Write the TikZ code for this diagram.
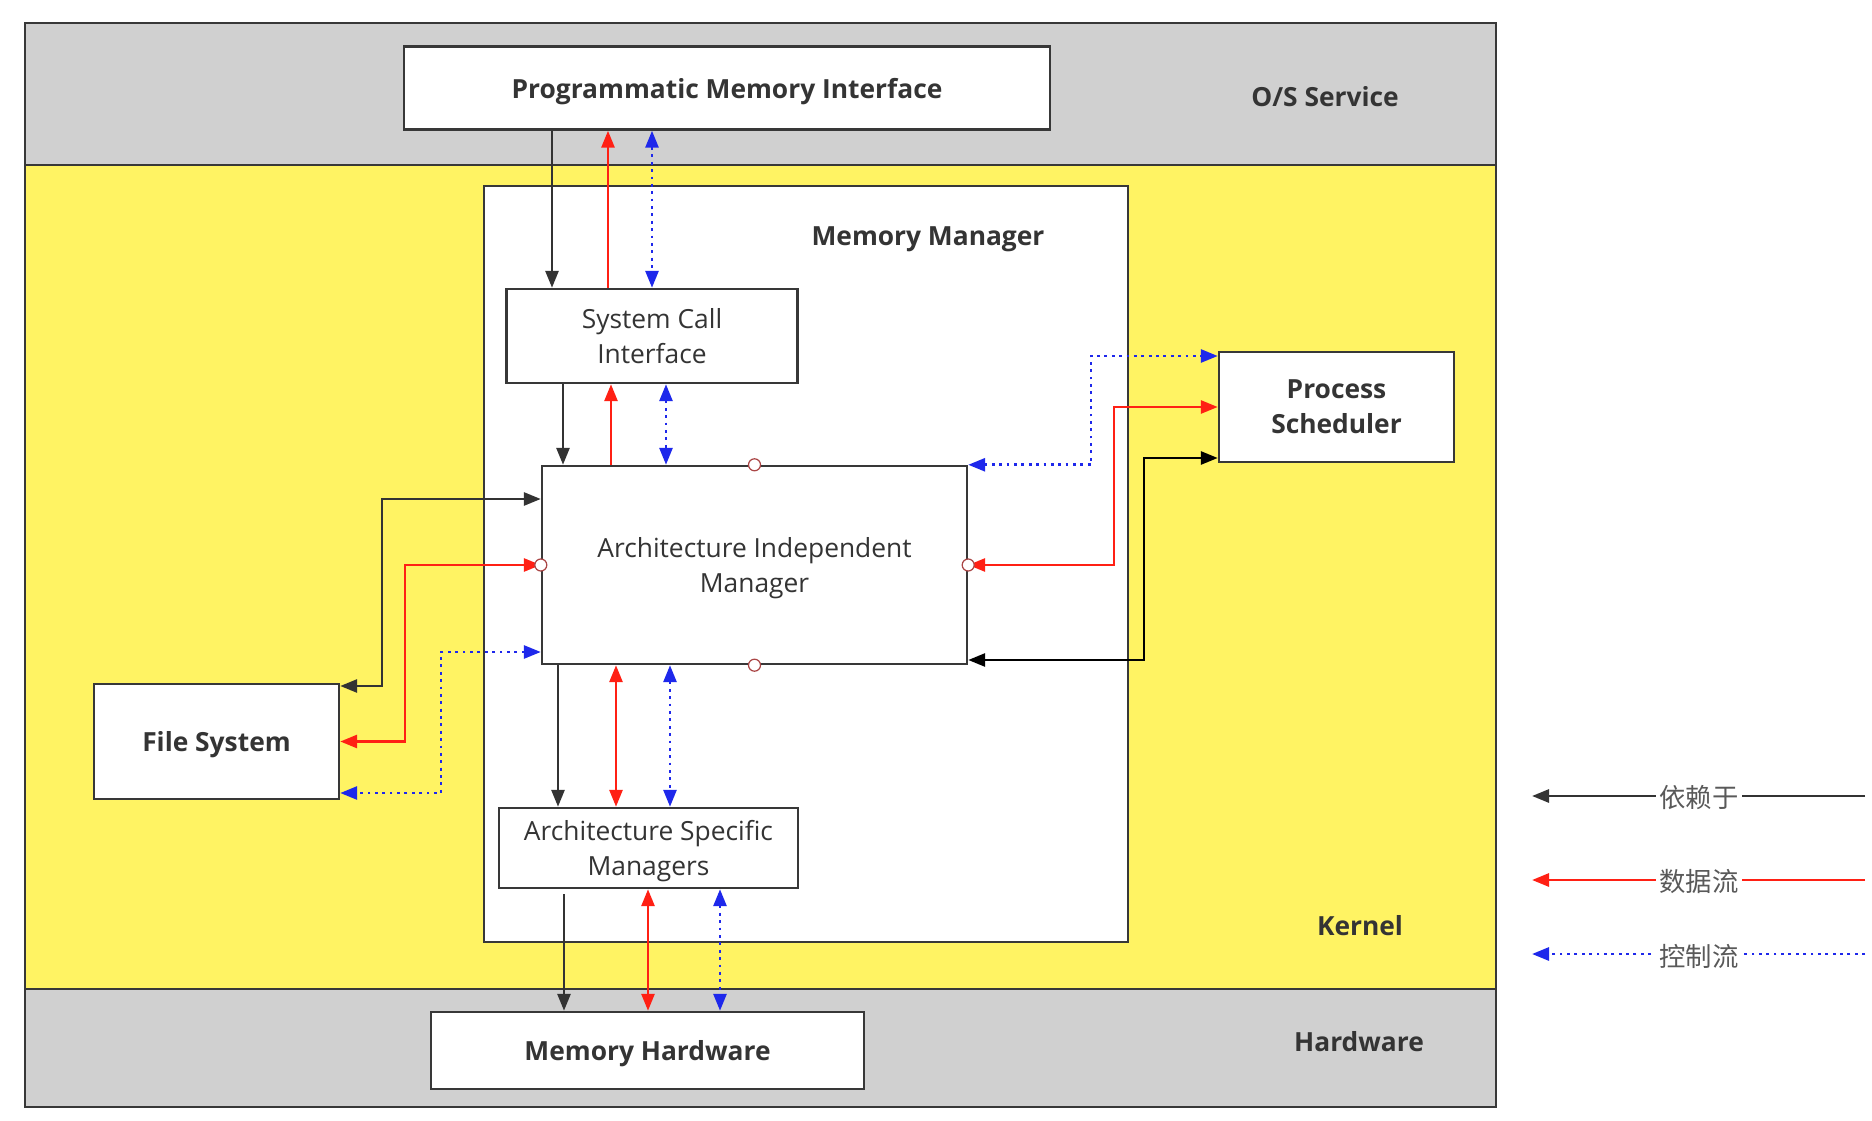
\documentclass[tikz,border=0pt]{standalone}
\usepackage{fontspec}
\setmainfont{Open Sans}
\newfontfamily\cjk{Noto Sans CJK SC}
\usetikzlibrary{arrows.meta, positioning, calc}
\definecolor{layerOS}{RGB}{208,208,208}
\definecolor{layerKernel}{RGB}{255,243,99}
\definecolor{edgeGray}{RGB}{56,56,56}
\definecolor{flowDep}{RGB}{51,51,51}
\definecolor{flowData}{RGB}{255,32,20}
\definecolor{flowCtrl}{RGB}{30,40,235}
\definecolor{txtGray}{RGB}{52,52,52}
\definecolor{portRed}{RGB}{170,70,70}

\begin{document}
\begin{tikzpicture}[
    x=0.02cm, y=-0.02cm,
    >={Triangle[length=3.4mm,width=2.6mm]},
    layer/.style={draw=edgeGray, line width=1.3pt},
    box/.style 2 args={draw=edgeGray, line width=1.4pt, fill=white, minimum width=#1, minimum height=#2, align=center, inner sep=0pt},
    lbl/.style={font=\fontsize{15}{20}\selectfont\bfseries, text=txtGray, align=center, text depth=0pt},
    txt/.style={font=\fontsize{15}{20}\selectfont, text=txtGray, align=center, text depth=0pt},
    dep/.style={draw=flowDep, line width=1.6pt, ->},
    data/.style={draw=flowData, line width=1.6pt, ->},
    ctrl/.style={draw=flowCtrl, line width=1.6pt, dash pattern=on 1.6pt off 2.6pt, ->},
    port/.style={circle, draw=portRed, fill=white, line width=0.7pt, minimum size=2.4mm, inner sep=0pt},
    legend/.style={font=\fontsize{15}{18}\selectfont\cjk, text=black!65, fill=white, inner sep=2pt}
  ]
    \useasboundingbox (0,0) rectangle (1872,1121);
    \fill[white] (0,0) rectangle (1872,1121);

    % layers
    \draw[layer, fill=layerOS]     (25,23)  rectangle (1496,165);
    \draw[layer, fill=layerKernel] (25,165) rectangle (1496,989);
    \draw[layer, fill=layerOS]     (25,989) rectangle (1496,1107);
    \node[lbl] (os)   at (1325,96)   {O/S Service};
    \node[lbl] (kern) at (1360,925)  {Kernel};
    \node[lbl] (hw)   at (1359,1041) {Hardware};

    % memory manager
    \node[box={128.8mm}{151.2mm}] (mgr) at (806,564) {};
    \node[lbl] (mgrlbl) at (928,236) {Memory Manager};

    % boxes
    \node[box={129.2mm}{16.6mm}, lbl] (pmi) at (727,88)      {Programmatic Memory Interface};
    \node[box={58.2mm}{18.8mm}, txt]  (sci) at (652,336)     {System Call\\Interface};
    \node[box={85mm}{39.6mm}, txt]    (aim) at (754.5,565)   {Architecture Independent\\Manager};
    \node[box={59.8mm}{16mm}, txt]    (asm) at (648.5,848)   {Architecture Specific\\Managers};
    \node[box={86.6mm}{15.4mm}, lbl]  (mh)  at (647.5,1050.5){Memory Hardware};
    \node[box={49mm}{23mm}, lbl]      (fs)  at (216.5,741.5) {File System};
    \node[box={47mm}{22mm}, lbl]      (ps)  at (1336.5,407)  {Process\\Scheduler};

    % interface <-> system call
    \draw[dep]        (pmi.south -| 552,0) -- (sci.north -| 552,0);
    \draw[data]       (sci.north -| 608,0) -- (pmi.south -| 608,0);
    \draw[ctrl, <->]  (pmi.south -| 652,0) -- (sci.north -| 652,0);

    % system call <-> independent
    \draw[dep]        (sci.south -| 563,0) -- (aim.north -| 563,0);
    \draw[data]       (aim.north -| 611,0) -- (sci.south -| 611,0);
    \draw[ctrl, <->]  (sci.south -| 666,0) -- (aim.north -| 666,0);

    % independent <-> specific
    \draw[dep]        (aim.south -| 558,0) -- (asm.north -| 558,0);
    \draw[data, <->]  (aim.south -| 616,0) -- (asm.north -| 616,0);
    \draw[ctrl, <->]  (aim.south -| 670,0) -- (asm.north -| 670,0);

    % specific <-> hardware
    \draw[dep]        ($(asm.south -| 564,0)+(0,5)$) -- (mh.north -| 564,0);
    \draw[data, <->]  (asm.south -| 648,0) -- (mh.north -| 648,0);
    \draw[ctrl, <->]  (asm.south -| 720,0) -- (mh.north -| 720,0);

    % file system
    \draw[dep, <->]   (aim.west |- 0,499) -- (382,499) |- (fs.east |- 0,686);
    \draw[data, <->]  (aim.west) -- (aim.west -| 405,0) |- (fs.east);
    \draw[ctrl, <->]  (aim.west |- 0,652) -- (441,652) |- (fs.east |- 0,793);

    % process scheduler
    \draw[ctrl, <->]  (aim.north east) -| (1091,356) -- (ps.west |- 0,356);
    \draw[data, <->]  (aim.east) -- (aim.east -| 1114,0) |- (ps.west);
    \draw[dep, <->, draw=black] (aim.east |- 0,660) -- (1144,660) |- (ps.west |- 0,458);

    % ports
    \node[port] (pN) at (aim.north) {};
    \node[port] (pS) at (aim.south) {};
    \node[port] (pW) at (aim.west)  {};
    \node[port] (pE) at (aim.east)  {};

    % legend
    \coordinate (depR)  at (1865,796);
    \coordinate (depL)  at (1532,796);
    \coordinate (dataR) at (1865,880);
    \coordinate (dataL) at (1532,880);
    \coordinate (ctrlR) at (1865,954);
    \coordinate (ctrlL) at (1532,954);
    \draw[dep]  (depR)  -- (depL);
    \draw[data] (dataR) -- (dataL);
    \draw[ctrl] (ctrlR) -- (ctrlL);
    \node[legend] (legDep)  at (1699,798) {依赖于};
    \node[legend] (legData) at (1699,882) {数据流};
    \node[legend] (legCtrl) at (1699,956) {控制流};
  \end{tikzpicture}
\end{document}
